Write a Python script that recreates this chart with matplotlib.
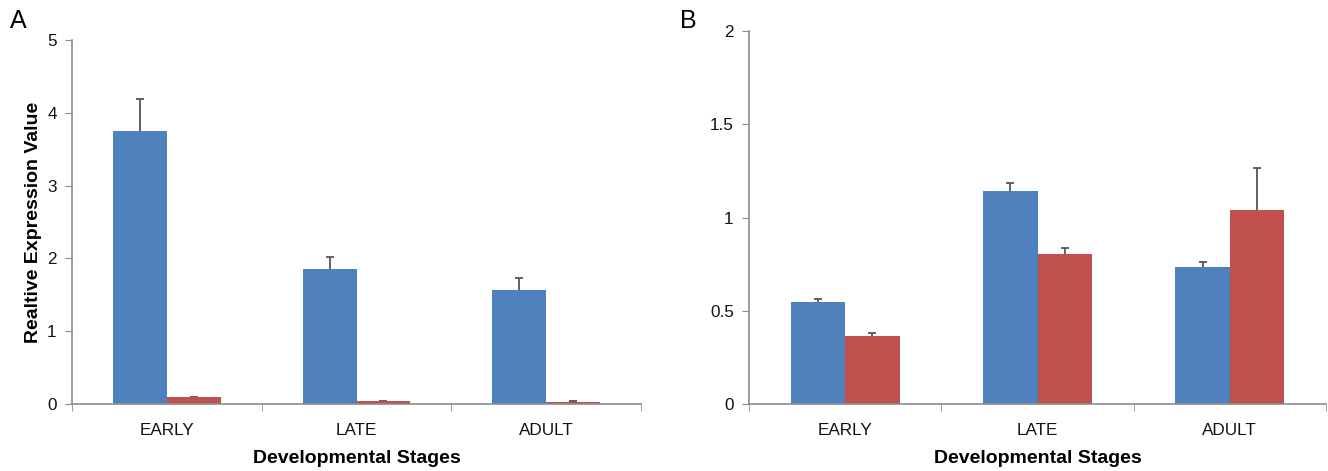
import matplotlib
matplotlib.use("Agg")
import matplotlib.pyplot as plt
import numpy as np

plt.rcParams['font.family'] = ['Liberation Sans', 'DejaVu Sans']

categories = ["EARLY", "LATE", "ADULT"]

a_blue = [3.75, 1.855, 1.565]
a_blue_err = [0.44, 0.165, 0.165]
a_red = [0.09, 0.04, 0.03]
a_red_err = [0.01, 0.008, 0.008]

b_blue = [0.546, 1.141, 0.737]
b_blue_err = [0.016, 0.046, 0.023]
b_red = [0.364, 0.803, 1.039]
b_red_err = [0.016, 0.036, 0.227]

a_yticks = [0, 1, 2, 3, 4, 5]
a_yticklabels = ["0", "1", "2", "3", "4", "5"]
b_yticks = [0, 0.5, 1, 1.5, 2]
b_yticklabels = ["0", "0.5", "1", "1.5", "2"]

BLUE = "#4F81BD"
RED = "#C0504D"
SPINE = "#8c8c8c"

fig = plt.figure(figsize=(13.28, 4.71), dpi=100)
axA = fig.add_axes([72/1328, 1-404/471, (641-72)/1328, (404-40)/471])
axB = fig.add_axes([749/1328, 1-404/471, (1326-749)/1328, (404-31)/471])

def draw(ax, blue, berr, red, rerr, yticks, ylabels, ymax, ylabel):
    x = np.arange(len(categories))
    w = 0.284
    ax.bar(x - w/2, blue, w, color=BLUE, zorder=2)
    ax.bar(x + w/2, red, w, color=RED, zorder=2)
    # upper-only error bars; lower half hidden behind the bars
    ax.errorbar(x - w/2, blue, yerr=berr, fmt='none',
                ecolor="#555555", elinewidth=1.3, capsize=3, capthick=1.3, zorder=1)
    ax.errorbar(x + w/2, red, yerr=rerr, fmt='none',
                ecolor="#555555", elinewidth=1.3, capsize=3, capthick=1.3, zorder=1)
    ax.set_xlim(-0.5, len(categories) - 0.5)
    ax.set_ylim(0, ymax)
    ax.set_xticks(x)
    ax.set_xticklabels(categories, fontsize=12.3, color="#111111")
    ax.set_xticks(np.arange(-0.5, len(categories)), minor=True)
    ax.tick_params(axis='x', which='major', length=0, pad=14)
    ax.tick_params(axis='x', which='minor', length=5, color=SPINE, direction='out')
    ax.set_yticks(yticks)
    ax.set_yticklabels(ylabels, fontsize=12.3, color="#111111")
    ax.tick_params(axis='y', length=5, color=SPINE, direction='out', pad=6)
    for s in ['top', 'right']:
        ax.spines[s].set_visible(False)
    for s in ['left', 'bottom']:
        ax.spines[s].set_color(SPINE)
        ax.spines[s].set_linewidth(1.2)
    ax.set_xlabel("Developmental Stages", fontsize=14, fontweight='bold', labelpad=8)
    if ylabel:
        ax.set_ylabel(ylabel, fontsize=14, fontweight='bold', labelpad=4)

draw(axA, a_blue, a_blue_err, a_red, a_red_err, a_yticks, a_yticklabels, 5,
     "Realtive Expression Value")
draw(axB, b_blue, b_blue_err, b_red, b_red_err, b_yticks, b_yticklabels, 2, None)

fig.text(10/1328, 1-21/471, "A", fontsize=18, va='center', ha='left')
fig.text(680/1328, 1-21/471, "B", fontsize=18, va='center', ha='left')

fig.savefig("out.png", dpi=100)
